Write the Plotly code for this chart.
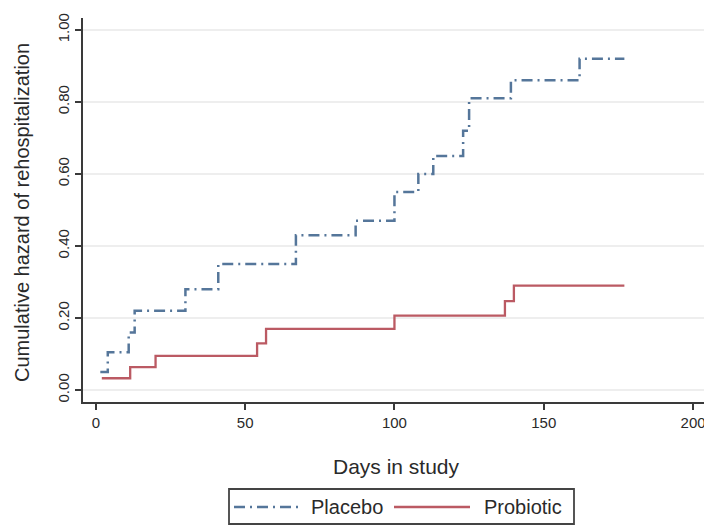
import plotly.graph_objects as go

placebo_days = [1.5, 4, 11, 13, 30, 41, 67, 87, 100, 108, 113, 123, 125, 139, 162, 177]
placebo_hazard = [0.05, 0.105, 0.16, 0.22, 0.28, 0.35, 0.43, 0.47, 0.55, 0.60, 0.65, 0.72, 0.81, 0.86, 0.92, 0.92]

probiotic_days = [2, 11.5, 20, 54, 57, 100, 137, 140, 177]
probiotic_hazard = [0.033, 0.064, 0.095, 0.13, 0.17, 0.207, 0.247, 0.29, 0.29]

x_ticks = [0, 50, 100, 150, 200]
y_ticks = [0.0, 0.2, 0.4, 0.6, 0.8, 1.0]
y_tick_labels = ["0.00", "0.20", "0.40", "0.60", "0.80", "1.00"]

series_names = ["Placebo", "Probiotic"]
series_colors = ["#55769a", "#bb5a63"]
placebo_dash = "11px,5px,2px,5px"

font_family = "Liberation Sans, Arial, sans-serif"
text_color = "#2a2a2a"
axis_color = "#3a3a3a"

# the page body has an 8px margin, so the figure is drawn 8px right/down
OFF = 8
VIEW_W, VIEW_H = 712, 526
W, H = VIEW_W - OFF, VIEW_H - OFF
# plot-area edges in viewport pixels
AX_L, AX_R, AX_T, AX_B = 83, 705, 18, 402
L, R, T, B = AX_L - OFF, W - (AX_R - OFF), AX_T - OFF, H - (AX_B - OFF)
pw, ph = W - L - R, H - T - B


def px_x(px):
    return (px - AX_L) / pw


def px_y(py):
    return (AX_B - py) / ph


fig = go.Figure()
fig.add_trace(go.Scatter(
    x=placebo_days, y=placebo_hazard, mode="lines", name=series_names[0],
    line=dict(shape="hv", color=series_colors[0], width=2.5, dash=placebo_dash),
    showlegend=False,
))
fig.add_trace(go.Scatter(
    x=probiotic_days, y=probiotic_hazard, mode="lines", name=series_names[1],
    line=dict(shape="hv", color=series_colors[1], width=2.3),
    showlegend=False,
))

# custom legend box
shapes = [
    dict(type="rect", xref="paper", yref="paper",
         x0=px_x(229), x1=px_x(574), y0=px_y(489), y1=px_y(524),
         line=dict(color="#444444", width=1.8), fillcolor="white", layer="above"),
    dict(type="line", xref="paper", yref="paper",
         x0=px_x(234), x1=px_x(299), y0=px_y(507), y1=px_y(507),
         line=dict(color=series_colors[0], width=2.5, dash=placebo_dash)),
    dict(type="line", xref="paper", yref="paper",
         x0=px_x(394), x1=px_x(470), y0=px_y(507), y1=px_y(507),
         line=dict(color=series_colors[1], width=2.3)),
]
annotations = [
    dict(text=series_names[0], xref="paper", yref="paper", x=px_x(309), y=px_y(507),
         xanchor="left", yanchor="middle", showarrow=False, font=dict(size=20)),
    dict(text=series_names[1], xref="paper", yref="paper", x=px_x(482), y=px_y(507),
         xanchor="left", yanchor="middle", showarrow=False, font=dict(size=20)),
    dict(text="Days in study", xref="paper", yref="paper", x=px_x(396), y=px_y(466),
         xanchor="center", yanchor="middle", showarrow=False, font=dict(size=21)),
    dict(text="Cumulative hazard of rehospitalization", xref="paper", yref="paper",
         x=px_x(22), y=px_y(213), xanchor="center", yanchor="middle", textangle=-90,
         showarrow=False, font=dict(size=20)),
]

fig.update_layout(
    width=W, height=H,
    margin=dict(l=L, r=R, t=T, b=B, autoexpand=False),
    paper_bgcolor="white", plot_bgcolor="white",
    font=dict(family=font_family, size=15, color=text_color),
    showlegend=False,
    shapes=shapes, annotations=annotations,
    xaxis=dict(
        range=[-4.3, 204], tickvals=x_ticks, showgrid=False, zeroline=False,
        showline=True, linecolor=axis_color, linewidth=2,
        ticks="outside", ticklen=6, tickcolor=axis_color, tickwidth=1.5,
        tickfont=dict(size=15), automargin=False,
    ),
    yaxis=dict(
        range=[-0.033, 1.033], tickvals=y_ticks, ticktext=y_tick_labels,
        tickangle=-90, showgrid=True, gridcolor="#eeeeee", gridwidth=1.5,
        zeroline=False, showline=True, linecolor=axis_color, linewidth=2,
        ticks="outside", ticklen=6, tickcolor=axis_color, tickwidth=1.5,
        tickfont=dict(size=15), automargin=False,
    ),
)

fig.write_html("out.html")
